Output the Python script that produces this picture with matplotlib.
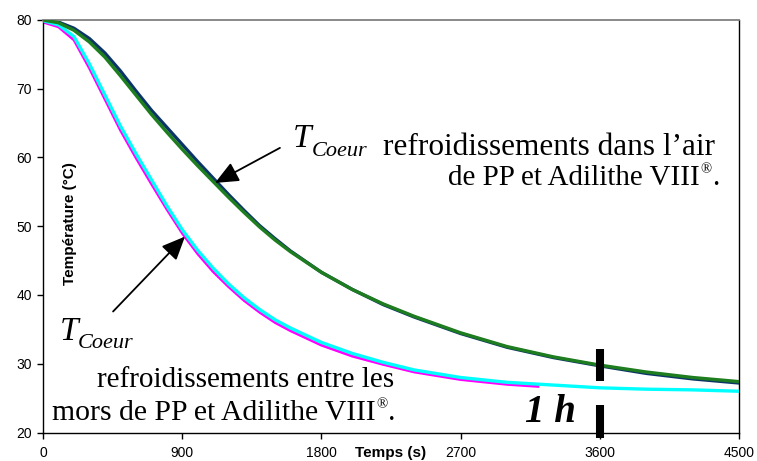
import matplotlib
matplotlib.use("Agg")
import matplotlib.pyplot as plt

plt.rcParams['font.family'] = ['Liberation Sans', 'DejaVu Sans']

# Cooling curves: core temperature (°C) versus time (s)
t_air = [0, 100, 200, 300, 400, 500, 600, 700, 800, 900, 1000, 1100, 1200,
         1300, 1400, 1500, 1600, 1800, 2000, 2200, 2400, 2700, 3000, 3300,
         3600, 3900, 4200, 4500]
pp_air = [80.0, 79.7, 78.8, 77.3, 75.2, 72.6, 69.7, 66.9, 64.4, 61.9, 59.4,
          57.0, 54.6, 52.3, 50.1, 48.2, 46.4, 43.3, 40.8, 38.6, 36.8, 34.4,
          32.4, 30.9, 29.7, 28.6, 27.8, 27.2]
adi_air = [80.0, 79.6, 78.5, 76.8, 74.6, 71.9, 69.1, 66.3, 63.7, 61.2, 58.8,
           56.5, 54.2, 52.0, 49.9, 48.0, 46.3, 43.3, 40.8, 38.7, 36.9, 34.5,
           32.5, 31.0, 29.8, 28.8, 28.0, 27.4]

t_mors = [0, 100, 200, 300, 400, 500, 600, 700, 800, 900, 1000, 1100, 1200,
          1300, 1400, 1500, 1600, 1800, 2000, 2200, 2400, 2700, 3000, 3300,
          3600, 3900, 4200, 4500]
adi_mors = [79.9, 79.3, 77.6, 73.6, 69.1, 64.6, 60.6, 56.8, 53.0, 49.5, 46.5,
            43.9, 41.6, 39.6, 37.9, 36.4, 35.2, 33.1, 31.5, 30.2, 29.1, 28.0,
            27.3, 26.9, 26.5, 26.3, 26.2, 26.0]
t_pp_mors = [0, 100, 200, 300, 400, 500, 600, 700, 800, 900, 1000, 1100, 1200,
             1300, 1400, 1500, 1600, 1800, 2000, 2200, 2400, 2700, 3000, 3200]
pp_mors = [79.7, 79.0, 77.1, 73.0, 68.5, 64.0, 60.0, 56.2, 52.5, 49.0, 46.0,
           43.4, 41.2, 39.2, 37.5, 36.0, 34.8, 32.7, 31.1, 29.9, 28.8, 27.7,
           27.0, 26.7]

x_ticks = [0, 900, 1800, 2700, 3600, 4500]
y_ticks = [20, 30, 40, 50, 60, 70, 80]
one_hour = 3600

fig = plt.figure(figsize=(7.57, 4.61), dpi=100)
ax = fig.add_axes([43 / 757, 1 - 432.5 / 461, 696 / 757, 412.5 / 461])

ax.plot(t_pp_mors, pp_mors, color='#ff00ff', lw=2.0, zorder=2)
ax.plot(t_mors, adi_mors, color='#00ffff', lw=2.4, zorder=3)
ax.plot(t_air, pp_air, color='#0b3568', lw=2.4, zorder=2)
ax.plot(t_air, adi_air, color='#1e7d1e', lw=2.4, zorder=3)

ax.set_xlim(0, 4500)
ax.set_ylim(20, 80)
ax.set_xticks(x_ticks)
ax.set_yticks(y_ticks)
ax.tick_params(axis='both', direction='out', length=4, width=1, labelsize=10,
               colors='black')
ax.tick_params(axis='x', pad=6)
ax.tick_params(axis='y', pad=4)
ax.spines['top'].set_color('#808080')
ax.spines['top'].set_linewidth(1.3)
for s in ('left', 'right', 'bottom'):
    ax.spines[s].set_color('black')
    ax.spines[s].set_linewidth(1.0)

fig.text(70 / 757, 1 - 223.5 / 461, 'Température (°C)', rotation=90,
         ha='center', va='center', fontsize=11, fontweight='bold')
fig.text(391 / 757, 1 - 453 / 461, 'Temps (s)', ha='center', va='center',
         fontsize=11, fontweight='bold')

serif = 'Liberation Serif'


def registered_line(x, y, text, size):
    """Write text followed by a small raised ® and a full stop."""
    main = ax.text(x, y, text, family=serif, fontsize=size,
                   ha='left', va='baseline')
    reg = ax.annotate('®', xy=(1, 0), xycoords=main,
                      xytext=(0.6, 0.5 * size), textcoords='offset points',
                      family=serif, fontsize=0.5 * size,
                      ha='left', va='bottom')
    ax.annotate('.', xy=(1, 0), xycoords=(reg, main),
                xytext=(0.3, 0), textcoords='offset points',
                family=serif, fontsize=size, ha='left', va='bottom')


# one-hour marker
ax.plot([one_hour, one_hour], [27.5, 32.1], color='black', lw=5.8,
        solid_capstyle='butt', zorder=5)
ax.plot([one_hour, one_hour], [19.2, 24.0], color='black', lw=5.8,
        solid_capstyle='butt', zorder=5, clip_on=False)
ax.text(3117, 21.57, '1 h', family=serif, style='italic', weight='bold',
        fontsize=28, ha='left', va='baseline')

arrow = dict(arrowstyle='-|>,head_length=0.8,head_width=0.35',
             mutation_scale=18, lw=1.3, color='black', shrinkA=0, shrinkB=0)

# labels for the air-cooled curves
ax.text(1617, 61.53, 'T', family=serif, style='italic', fontsize=24,
        ha='left', va='baseline')
ax.text(1739, 60.2, 'Coeur', family=serif, style='italic', fontsize=16,
        ha='left', va='baseline')
ax.annotate('', xy=(1112, 56.3), xytext=(1532, 61.4), arrowprops=arrow)
ax.text(2198, 60.36, 'refroidissements dans l\u2019air', family=serif,
        fontsize=22.5, ha='left', va='baseline')
registered_line(2619, 56.0, 'de PP et Adilithe VIII', 21)

# labels for the curves cooled between the jaws
ax.text(110, 33.45, 'T', family=serif, style='italic', fontsize=24,
        ha='left', va='baseline')
ax.text(226, 32.3, 'Coeur', family=serif, style='italic', fontsize=16,
        ha='left', va='baseline')
ax.annotate('', xy=(918, 48.5), xytext=(453, 37.6), arrowprops=arrow)
ax.text(349, 26.66, 'refroidissements entre les', family=serif,
        fontsize=21, ha='left', va='baseline')
registered_line(58, 21.82, 'mors de PP et Adilithe VIII', 21.3)

fig.savefig('out.png', dpi=100)
